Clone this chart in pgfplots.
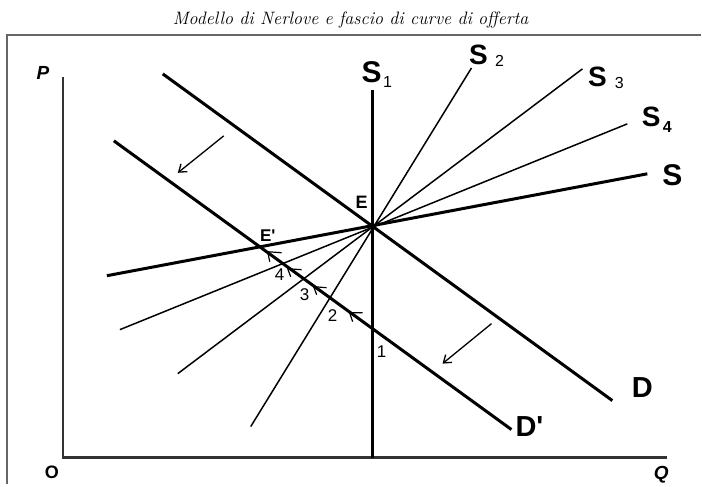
\documentclass[border=0pt]{standalone}
\usepackage{fontspec}
\usepackage{pgfplots}
\pgfplotsset{compat=1.18}
\usetikzlibrary{arrows.meta}
\newfontfamily\arial{Liberation Sans}
\newcommand{\fs}[1]{\fontsize{#1bp}{#1bp}\selectfont}

\begin{document}
\begin{tikzpicture}
\begin{axis}[
  scale only axis,
  width=702bp, height=485bp,
  xmin=0, xmax=702, ymin=0, ymax=485,
  y dir=reverse,
  hide axis,
  clip=false,
]
% keep the whole canvas in the bounding box
\path (axis cs:0,0) rectangle (axis cs:702,485);

% frame
\addplot[gray!80!black, line width=1.5bp] coordinates {(7,485) (7,35) (702,35)};

% axes
\addplot[black!80, line width=2.2bp] coordinates {(63,77) (63,458) (668,458)};

% demand curves D and D'
\addplot[black, line width=3bp] coordinates {(163,74) (613,401)};
\addplot[black, line width=3bp] coordinates {(114,141) (512,430)};

% supply curves through E
\addplot[black, line width=3bp] coordinates {(373,90) (373,458)};   % S1
\addplot[black, line width=1.5bp] coordinates {(251,427) (472,68)}; % S2
\addplot[black, line width=1.5bp] coordinates {(178,374) (583,69)}; % S3
\addplot[black, line width=1.5bp] coordinates {(120,330) (628,124)};% S4
\addplot[black, line width=3bp] coordinates {(107,276) (648,174)};  % S

% shift arrows
\addplot[black, line width=1.3bp, -{Straight Barb[length=7bp,width=10bp]}] coordinates {(224,136) (178,173)};
\addplot[black, line width=1.3bp, -{Straight Barb[length=7bp,width=10bp]}] coordinates {(492,324) (443,364)};

% small adjustment arrows along D'
\addplot[black, line width=1.2bp] coordinates {(282,253) (268,252) (270,262)};
\addplot[black, line width=1.2bp] coordinates {(302,270) (288,269) (291,277)};
\addplot[black, line width=1.2bp] coordinates {(327,288) (314,287) (317,295)};
\addplot[black, line width=1.2bp] coordinates {(363,313) (350,313) (353,322)};

% labels
\node[font=\itshape\fs{18}] at (axis cs:351,20) {Modello di Nerlove e fascio di curve di offerta};
\node[font=\arial\bfseries\itshape\fs{19}] at (axis cs:43,73) {P};
\node[font=\arial\bfseries\fs{18}] at (axis cs:52,473) {O};
\node[font=\arial\bfseries\itshape\fs{19}] at (axis cs:662,475) {Q};

\node[font=\arial\bfseries\fs{30}] at (axis cs:372,72) {S};
\node[font=\arial\fs{16}] at (axis cs:388,82) {1};
\node[font=\arial\bfseries\fs{28}] at (axis cs:479,55) {S};
\node[font=\arial\fs{16}] at (axis cs:500,61) {2};
\node[font=\arial\bfseries\fs{28}] at (axis cs:598,77) {S};
\node[font=\arial\fs{16}] at (axis cs:620,83) {3};
\node[font=\arial\bfseries\fs{28}] at (axis cs:652,117) {S};
\node[font=\arial\bfseries\fs{16}] at (axis cs:668,127) {4};
\node[font=\arial\bfseries\fs{30}] at (axis cs:673,175) {S};

\node[font=\arial\bfseries\fs{29}] at (axis cs:643,388) {D};
\node[font=\arial\bfseries\fs{29}] at (axis cs:530,427) {D'};
\node[font=\arial\bfseries\fs{18}] at (axis cs:362,203) {E};
\node[font=\arial\bfseries\fs{17}] at (axis cs:268,236) {E'};

\node[font=\arial\fs{17}] at (axis cs:382,352) {1};
\node[font=\arial\fs{17}] at (axis cs:333,316) {2};
\node[font=\arial\fs{17}] at (axis cs:305,295) {3};
\node[font=\arial\fs{17}] at (axis cs:280,275) {4};
\end{axis}
\end{tikzpicture}
\end{document}
